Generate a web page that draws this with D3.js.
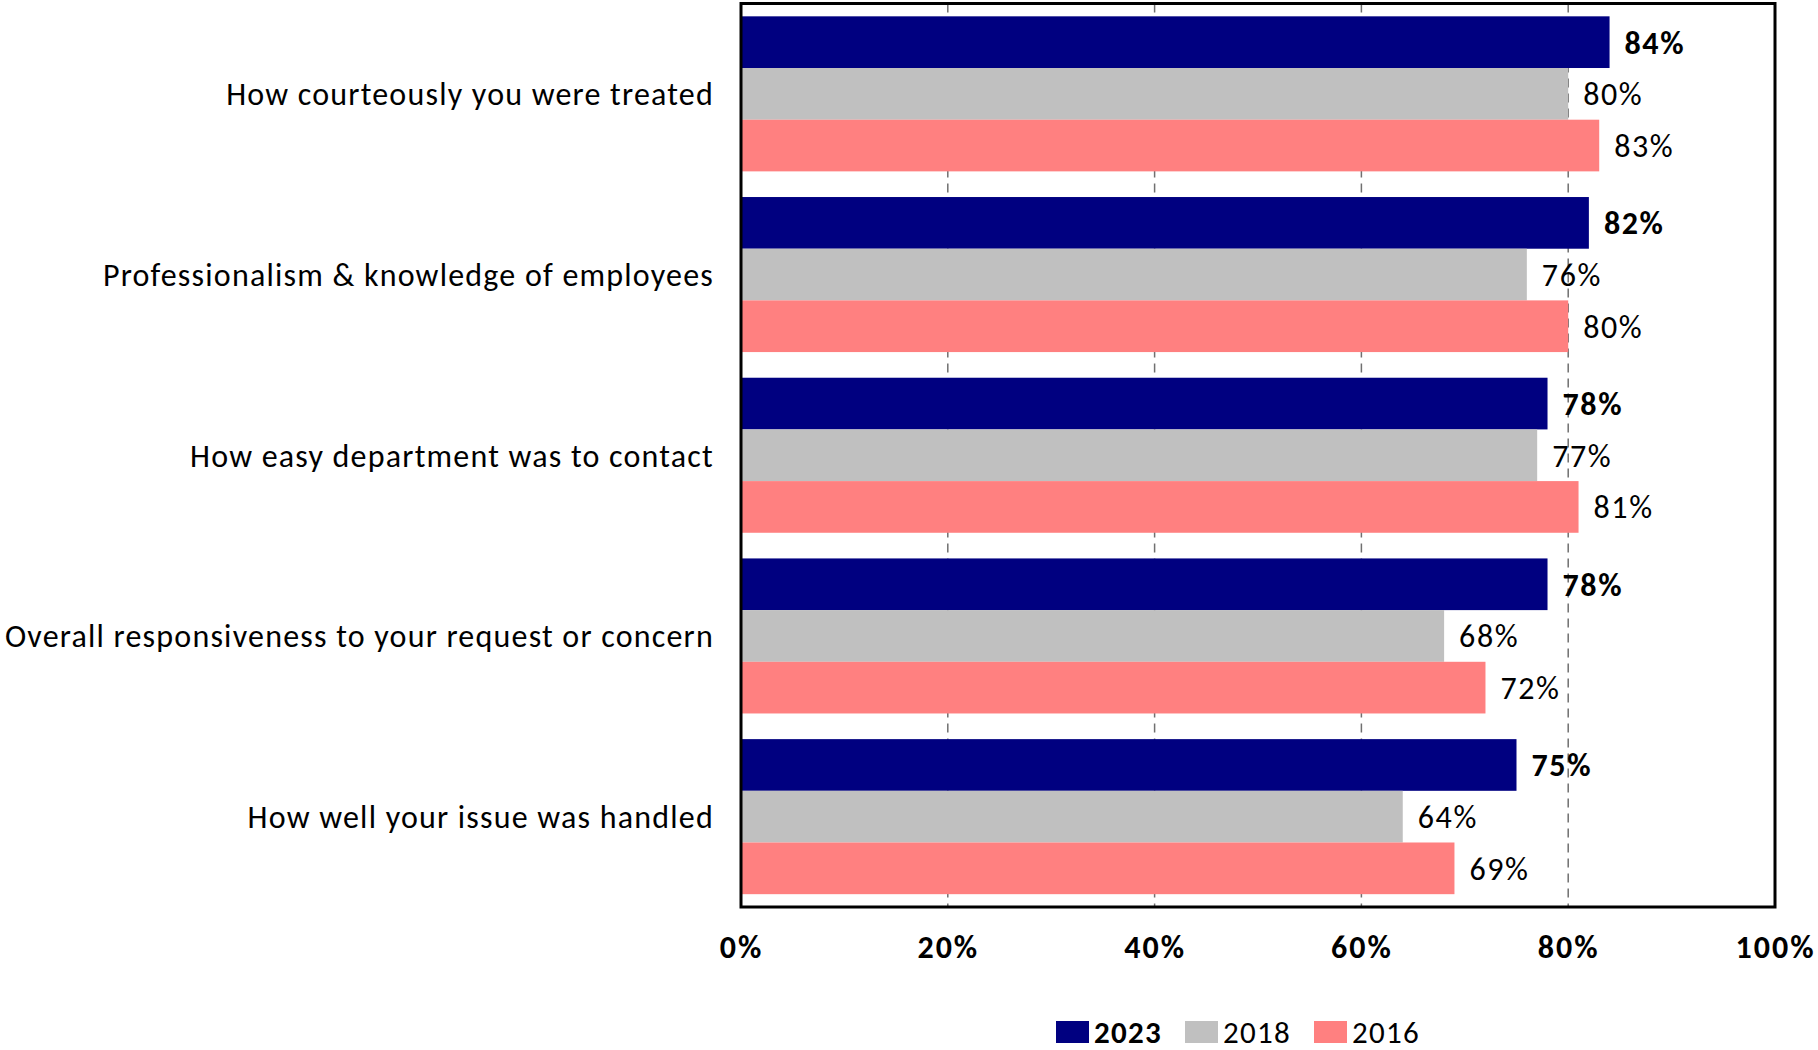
<!DOCTYPE html>
<html>
<head>
<meta charset="utf-8">
<script src="https://cdn.jsdelivr.net/npm/d3@7"></script>
<style>
  html, body { margin: 0; padding: 0; background: #fff; }
  svg { display: block; }
  text { font-family: Carlito, Lato, "Open Sans", sans-serif; fill: #000; }
</style>
</head>
<body>
<svg id="chart" width="1818" height="1050"></svg>
<script>
// Survey satisfaction ratings by year
const categories = [
  "How courteously you were treated",
  "Professionalism & knowledge of employees",
  "How easy department was to contact",
  "Overall responsiveness to your request or concern",
  "How well your issue was handled"
];
const seriesNames = ["2023", "2018", "2016"];
const values2023 = [84, 82, 78, 78, 75];
const values2018 = [80, 76, 77, 68, 64];
const values2016 = [83, 80, 81, 72, 69];
const tickValues = [0, 20, 40, 60, 80, 100];
const seriesColors = ["#000080", "#C0C0C0", "#FF8080"];

const seriesValues = [values2023, values2018, values2016];
const rows = categories.map((c, i) => ({
  category: c,
  bars: seriesNames.map((s, j) => ({ series: s, value: seriesValues[j][i], idx: j }))
}));

const svg = d3.select("#chart");
const plot = { left: 741, right: 1775, top: 3.5, bottom: 907 };
const fontSize = 32;
const spacing = "1.3px";

const x = d3.scaleLinear().domain([0, 100]).range([plot.left, plot.right]);
const y0 = d3.scaleBand().domain(categories)
  .range([plot.top, plot.bottom])
  .paddingInner(0.142).paddingOuter(0.071);
const y1 = d3.scaleBand().domain(seriesNames).range([0, y0.bandwidth()]);
const color = d3.scaleOrdinal().domain(seriesNames).range(seriesColors);

// dashed vertical gridlines (behind the bars)
svg.append("g")
  .selectAll("line")
  .data(tickValues.filter(t => t > 0 && t < 100))
  .join("line")
  .attr("x1", d => x(d)).attr("x2", d => x(d))
  .attr("y1", plot.top).attr("y2", plot.bottom)
  .attr("stroke", "#707070")
  .attr("stroke-width", 1.5)
  .attr("stroke-dasharray", "9,6");

// bars
const groups = svg.append("g")
  .selectAll("g")
  .data(rows)
  .join("g")
  .attr("transform", d => `translate(0,${y0(d.category)})`);

groups.selectAll("rect")
  .data(d => d.bars)
  .join("rect")
  .attr("x", x(0))
  .attr("y", d => y1(d.series))
  .attr("width", d => x(d.value) - x(0))
  .attr("height", y1.bandwidth())
  .attr("fill", d => color(d.series));

// value labels
groups.selectAll("text")
  .data(d => d.bars)
  .join("text")
  .attr("x", d => x(d.value) + 15)
  .attr("y", d => y1(d.series) + y1.bandwidth() / 2)
  .attr("dy", "0.36em")
  .attr("font-size", fontSize)
  .attr("letter-spacing", "1.6px")
  .attr("font-weight", d => d.idx === 0 ? "bold" : "normal")
  .text(d => d.value + "%");

// category labels
svg.append("g")
  .selectAll("text")
  .data(categories)
  .join("text")
  .attr("x", plot.left - 27)
  .attr("y", d => y0(d) + y0.bandwidth() / 2)
  .attr("dy", "0.36em")
  .attr("text-anchor", "end")
  .attr("font-size", fontSize)
  .attr("letter-spacing", "1.2px")
  .text(d => d);

// frame
svg.append("rect")
  .attr("x", plot.left).attr("y", plot.top)
  .attr("width", plot.right - plot.left)
  .attr("height", plot.bottom - plot.top)
  .attr("fill", "none")
  .attr("stroke", "#000")
  .attr("stroke-width", 3);

// x axis tick labels
const xAxis = svg.append("g")
  .attr("transform", `translate(0,${plot.bottom})`)
  .call(d3.axisBottom(x).tickValues(tickValues).tickSize(0).tickPadding(0)
    .tickFormat(d => d + "%"));
xAxis.select(".domain").remove();
xAxis.selectAll("text")
  .attr("y", 51)
  .attr("dy", 0)
  .attr("font-size", fontSize)
  .attr("letter-spacing", "2px")
  .attr("font-weight", "bold")
  .attr("font-family", null)
  .attr("fill", "#000");

// legend
const legendItems = [
  { name: "2023", x: 1056, bold: true },
  { name: "2018", x: 1185, bold: false },
  { name: "2016", x: 1314, bold: false }
];
const legend = svg.append("g").selectAll("g")
  .data(legendItems)
  .join("g")
  .attr("transform", d => `translate(${d.x},1021)`);
legend.append("rect")
  .attr("width", 33).attr("height", 22)
  .attr("fill", d => color(d.name));
legend.append("text")
  .attr("x", 38).attr("y", 11).attr("dy", "0.36em")
  .attr("font-size", 31)
  .attr("letter-spacing", spacing)
  .attr("font-weight", d => d.bold ? "bold" : "normal")
  .text(d => d.name);
</script>
</body>
</html>
